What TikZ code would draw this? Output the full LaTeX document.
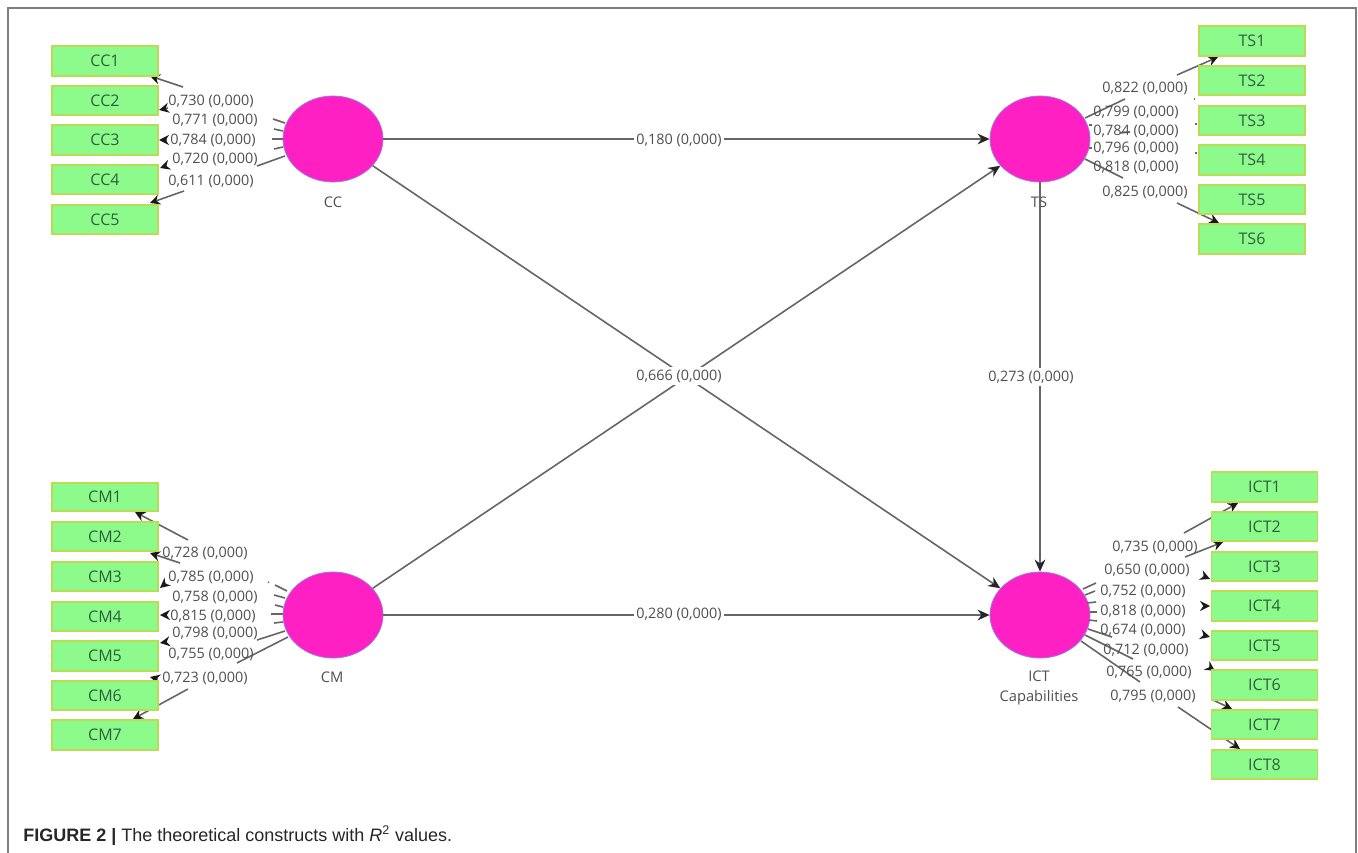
\documentclass[tikz,border=0pt]{standalone}
\usepackage{fontspec}
\setmainfont{Open Sans}
\newfontfamily\capfont{Liberation Sans}
\usetikzlibrary{shapes.geometric,arrows.meta}
\definecolor{linegray}{HTML}{666666}
\definecolor{textgray}{HTML}{4F4F4F}
\definecolor{boxgreen}{HTML}{8CFB8C}
\definecolor{boxedge}{HTML}{BBDB55}
\definecolor{boxtext}{HTML}{2F5F3F}
\definecolor{latent}{HTML}{FF20C4}
\definecolor{latentedge}{HTML}{9A78E8}
\definecolor{framegray}{HTML}{7F7F7F}
\tikzset{
  lat/.style={ellipse,draw=latentedge,line width=.6pt,fill=latent,minimum width=75pt,minimum height=64.5pt,inner sep=0pt},
  ind/.style={draw=boxedge,line width=.9pt,fill=boxgreen,inner sep=0pt,text=boxtext,font=\fontsize{12pt}{14pt}\selectfont},
  latname/.style={text=textgray,font=\fontsize{11pt}{15.6pt}\selectfont,align=center,inner sep=0pt},
  val/.style={text=textgray,font=\fontsize{10.8pt}{13pt}\selectfont,inner sep=0pt},
  pathval/.style={val,fill=white,inner xsep=0pt,inner ysep=2pt,minimum width=68pt},
  pathline/.style={draw=linegray,line width=1.2pt,-{Stealth[length=9pt,width=8pt,color=black!85]}},
  load/.style={draw=linegray,line width=1.2pt,-{Stealth[length=7.5pt,width=7.5pt,color=black!90]}},
  stub/.style={draw=linegray,line width=1.2pt},
}
\begin{document}
\begin{tikzpicture}[x=.75pt,y=-.75pt]
\useasboundingbox (0,0) rectangle (1358,852);
% frame, open at the foot of the page
\coordinate (fbl) at (8,853);
\coordinate (ftl) at (8,8);
\coordinate (ftr) at (1356,8);
\coordinate (fbr) at (1356,853);
\draw[framegray,line width=1.2pt] (fbl) -- (ftl) -- (ftr) -- (fbr);
% latent variables
\node[lat] (CC) at (333,139) {};
\node[lat] (TS) at (1040,139) {};
\node[lat] (CM) at (333,615) {};
\node[lat] (ICT) at (1040,615) {};
\node[latname] (CCname) at (333,202) {CC};
\node[latname] (CMname) at (332,677) {CM};
\node[latname] (TSname) at (1039,202) {TS};
\node[latname] (ICTname) at (1039,688) {ICT\\Capabilities};
% structural paths
\draw[pathline] (CC) -- (TS);
\draw[pathline] (CC) -- (ICT);
\draw[pathline] (CM) -- (TS);
\draw[pathline] (CM) -- (ICT);
\draw[pathline] (TS) -- (ICT);
\node[pathval] (p1) at (679,140) {0,180 (0,000)};
\node[pathval] (p2) at (679,376) {0,666 (0,000)};
\node[pathval] (p3) at (679,614) {0,280 (0,000)};
\node[pathval] (p4) at (1031,377) {0,273 (0,000)};
% outer-model stubs that leave the latent variables
\foreach \n/\ax/\ay/\bx/\by in {
  sa/273/119/285/123, sb/274/129/283/131, sc/272/139/283/139, sd/274/149/283/147, se/257/166/285/156,
  ta/1085/118/1125/99, tb/1120/133/1130/132, tc/1085/159/1123/178, td/1089/125/1092/125, te/1089/148/1092/148,
  ma/268/582/269/582.5, mb/275/585/287/591, mc/274/595/285/598, md/275/605/283/607, me/271/614/283/614, mf/274/623/283/622, mg/257/640/285/631, mh/237/663/288/637,
  ia/1083/589/1096/583, ib/1085/595/1095/591, ic/1087/603/1096/602, id/1090/612/1097/612, ie/1089/620/1097/621, if/1088/629/1112/637, ig/1085/635/1133/659, ih/1081/641/1140/682,
  da/1194/99/1195/99, db/1195/124/1197/124, dc/1195/153/1197/153}{
  \coordinate (\n1) at (\ax,\ay);
  \coordinate (\n2) at (\bx,\by);
  \draw[stub] (\n1) -- (\n2);
}
% outer-model arrows that reach the indicators
\foreach \n/\ax/\ay/\bx/\by in {
  aa/183/87/150/76, ab/168/108/159/110, ac/167/140/159/140, ad/166/166/160/168, ae/184/191/150/203,
  ba/1177/75/1218/57, bb/1177/203/1219/223,
  ca/188/540/135/512, cb/180/563/150/553, cc/166/583/160/588, cd/167/615/160/615, ce/166/642/160/643, cf/158/679/150/677, cg/188/689/133/719,
  ea/1184/533/1238/503, eb/1185/557/1223/542, ec/1203/576/1210/579, ed/1203/606/1210/606, ee/1203/635/1210/637, ef/1209/667/1215/671, eg/1213/700/1232/709, eh/1178/707/1240/749}{
  \coordinate (\n1) at (\ax,\ay);
  \coordinate (\n2) at (\bx,\by);
  \draw[load] (\n1) -- (\n2);
}
% indicators
\foreach \n/\ya/\yb in {CC1/46/76, CC2/86/115, CC3/125/155, CC4/165/194, CC5/205/234,
  CM1/483/511, CM2/522/551, CM3/562/591, CM4/602/631, CM5/641/671, CM6/681/710, CM7/720/750}{
  \node[ind,minimum width=79.5pt,minimum height={(\yb-\ya)*.75pt}] (\n) at (105,{(\ya+\yb)/2}) {\n};
}
\foreach \n/\ya/\yb in {TS1/26/56, TS2/66/95, TS3/106/135, TS4/145/175, TS5/185/214, TS6/224/254}{
  \node[ind,minimum width=79.5pt,minimum height={(\yb-\ya)*.75pt}] (\n) at (1252,{(\ya+\yb)/2}) {\n};
}
\foreach \n/\ya/\yb in {ICT1/472/502, ICT2/512/541, ICT3/552/581, ICT4/591/621, ICT5/631/660, ICT6/670/700, ICT7/710/739, ICT8/750/779}{
  \node[ind,minimum width=80pt,minimum height={(\yb-\ya)*.75pt}] (\n) at (1264.5,{(\ya+\yb)/2}) {\n};
}
% loading values
\foreach \n/\x/\y/\t in {
  la/211/101/{0,730}, lb/215/120/{0,771}, lc/213/140/{0,784}, ld/215/159/{0,720}, le/211/181/{0,611},
  lf/1145/88/{0,822}, lg/1136/112/{0,799}, lh/1136/131/{0,784}, li/1136/148/{0,796}, lj/1136/167/{0,818}, lk/1145/192/{0,825},
  ll/205/553/{0,728}, lm/211/577/{0,785}, ln/215/597/{0,758}, lo/213/616/{0,815}, lp/215/633/{0,798}, lq/211/654/{0,755}, lr/205/678/{0,723},
  ls/1155/547/{0,735}, lt/1147/570/{0,650}, lu/1143/591/{0,752}, lv/1143/611/{0,818}, lw/1143/630/{0,674}, lx/1146/650/{0,712}, ly/1149/672/{0,765}, lz/1153/696/{0,795}}{
  \node[val] (\n) at (\x,\y) {\t{} (0,000)};
}
% caption
\node[anchor=base west,inner sep=0pt,text=black!85,font=\capfont\fontsize{13.5pt}{16pt}\selectfont] (caption) at (23,841) {\textbf{FIGURE 2 |} The theoretical constructs with \textit{R}\textsuperscript{2} values.};
\end{tikzpicture}
\end{document}
